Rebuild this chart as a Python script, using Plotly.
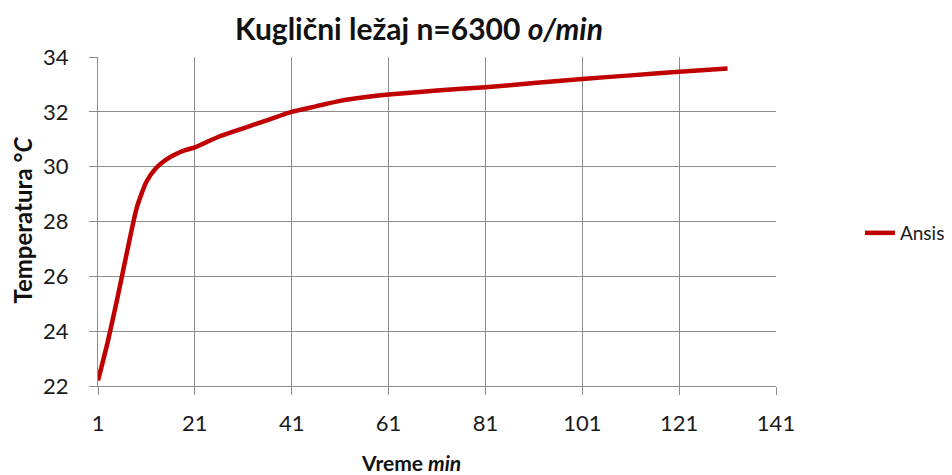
import plotly.graph_objects as go

minutes = [1, 3, 5, 7, 9, 11, 13, 15, 17, 19, 21, 26, 31, 36, 41, 46, 51, 56, 61,
           71, 81, 91, 101, 111, 121, 131]
temps = [22.2, 23.6, 25.2, 26.9, 28.5, 29.45, 29.95, 30.25, 30.45, 30.6, 30.7, 31.1,
         31.4, 31.7, 32.0, 32.2, 32.4, 32.53, 32.63, 32.78, 32.9, 33.05, 33.2, 33.33,
         33.46, 33.58]
x_ticks = [1, 21, 41, 61, 81, 101, 121, 141]
y_ticks = [22, 24, 26, 28, 30, 32, 34]

FONT = "Lato"
GRID = "#8c8c8c"
# page body has an 8px margin; figure sized to fit the window exactly
OFF = 8
W, H = 952 - OFF, 475 - OFF
L, T = 97.5 - OFF, 57 - OFF
R = W - (776 - OFF)
B = H - (386 - OFF)
PW = W - L - R
PH = H - T - B


def px(sx):
    return (sx - OFF - L) / PW


def py(sy):
    return (H - B - (sy - OFF)) / PH


fig = go.Figure()
fig.add_trace(go.Scatter(
    x=minutes, y=temps, mode="lines", name="Ansis",
    line=dict(color="#c00000", width=4.5, shape="spline", smoothing=0.6),
))

fig.update_layout(
    width=W, height=H,
    margin=dict(l=L, r=R, t=T, b=B, autoexpand=False),
    paper_bgcolor="white", plot_bgcolor="white",
    font=dict(family=FONT, color="#1a1a1a", size=22),
    title=dict(text="<b>Kuglični ležaj n=6300 <i>o/min</i></b>",
               x=(419 - OFF) / W, xanchor="center", xref="container",
               y=1 - (29 - OFF) / H, yanchor="middle", yref="container",
               font=dict(family=FONT, size=30, color="#111")),
    showlegend=True,
    legend=dict(x=px(860), xanchor="left", y=py(233), yanchor="middle",
                font=dict(family=FONT, size=19, color="#1a1a1a"),
                bgcolor="rgba(0,0,0,0)"),
    annotations=[
        dict(text="<b>Vreme <i>min</i></b>", x=px(411), xref="paper",
             y=py(462), yref="paper", showarrow=False,
             xanchor="center", yanchor="middle",
             font=dict(family=FONT, size=21, color="#111")),
        dict(text="<b>Temperatura °<i>C</i></b>", x=px(21), xref="paper",
             y=py(220), yref="paper", showarrow=False, textangle=-90,
             xanchor="center", yanchor="middle",
             font=dict(family=FONT, size=24, color="#111")),
    ],
)
fig.update_xaxes(range=[1, 141], tickvals=x_ticks, ticktext=[str(v) for v in x_ticks],
                 showgrid=True, gridcolor=GRID, gridwidth=1.3,
                 showline=True, linecolor=GRID, linewidth=1.3, mirror=False,
                 ticks="outside", ticklen=8, tickcolor=GRID, tickwidth=1.3,
                 zeroline=False, tickfont=dict(size=22), ticklabelstandoff=9,
                 automargin=False)
fig.update_yaxes(range=[22, 34], tickvals=y_ticks,
                 showgrid=True, gridcolor=GRID, gridwidth=1.3,
                 showline=True, linecolor=GRID, linewidth=1.3,
                 ticks="outside", ticklen=8, tickcolor=GRID, tickwidth=1.3,
                 zeroline=False, tickfont=dict(size=22), ticklabelstandoff=16,
                 automargin=False)

fig.write_html("out.html")
